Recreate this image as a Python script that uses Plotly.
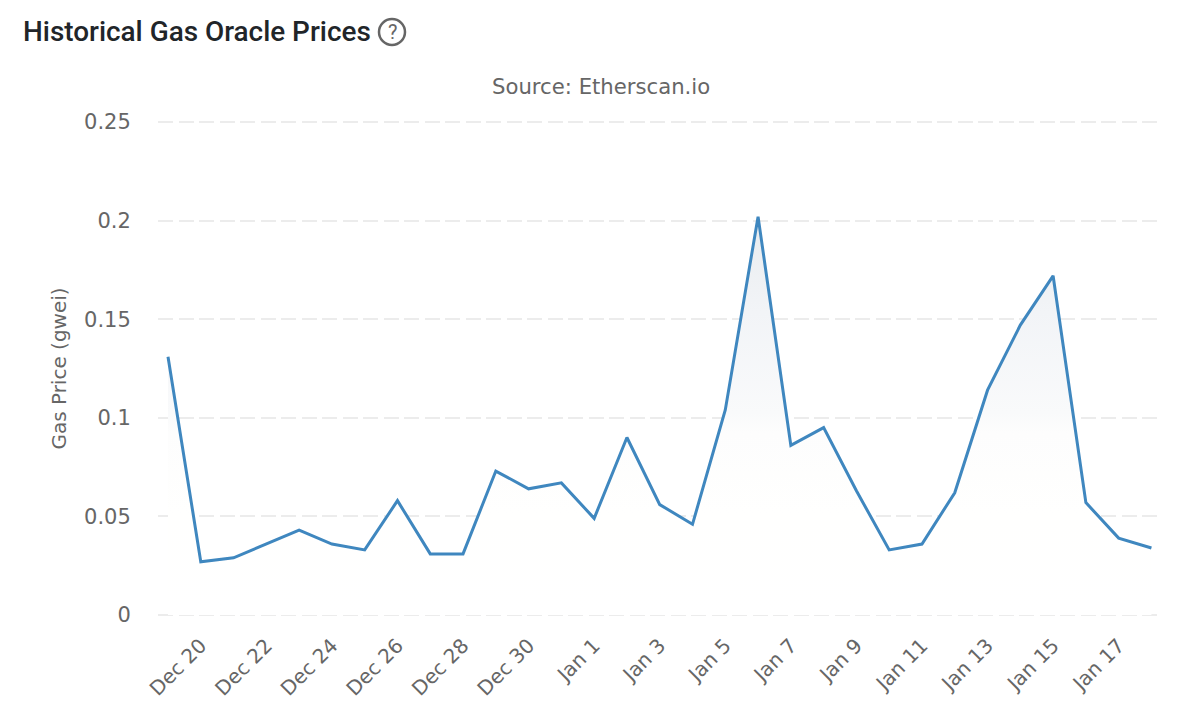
import plotly.graph_objects as go

dates = ["Dec 19", "Dec 20", "Dec 21", "Dec 22", "Dec 23", "Dec 24", "Dec 25", "Dec 26",
         "Dec 27", "Dec 28", "Dec 29", "Dec 30", "Dec 31", "Jan 1", "Jan 2", "Jan 3",
         "Jan 4", "Jan 5", "Jan 6", "Jan 7", "Jan 8", "Jan 9", "Jan 10", "Jan 11",
         "Jan 12", "Jan 13", "Jan 14", "Jan 15", "Jan 16", "Jan 17", "Jan 18"]
gas_price = [0.131, 0.027, 0.029, 0.036, 0.043, 0.036, 0.033, 0.058,
             0.031, 0.031, 0.073, 0.064, 0.067, 0.049, 0.090, 0.056,
             0.046, 0.104, 0.202, 0.086, 0.095, 0.063, 0.033, 0.036,
             0.062, 0.114, 0.147, 0.172, 0.057, 0.039, 0.034]
x_ticks = dates[1::2]
y_ticks = [0, 0.05, 0.1, 0.15, 0.2, 0.25]
y_labels = ["0", "0.05", "0.1", "0.15", "0.2", "0.25"]

# the page adds an 8px body margin around the figure
W, H = 1184, 709
L, R, T, B = 150, 34, 112, 100


def px(x):
    return (x - 8 - L) / (W - L - R)


def py(y):
    return 1 - (y - 8 - T) / (H - T - B)


fig = go.Figure()

fig.add_trace(go.Scatter(
    x=dates, y=gas_price,
    mode="lines",
    line=dict(color="#3f87bf", width=3),
    fill="tozeroy",
    fillgradient=dict(
        type="vertical",
        start=0, stop=0.205,
        colorscale=[[0, "#ffffff"], [0.25, "#fffffe"], [0.45, "#fdfdfd"], [0.5, "#f9fafb"],
                    [0.75, "#f2f4f7"], [1, "#e8ebee"]],
    ),
    hoverinfo="x+y",
    showlegend=False,
))

fig.update_layout(
    width=W, height=H,
    autosize=False,
    margin=dict(l=L, r=R, t=T, b=B),
    paper_bgcolor="white",
    plot_bgcolor="white",
    font=dict(family="DejaVu Sans", color="#666666", size=20),
    xaxis=dict(
        type="category",
        categoryorder="array",
        categoryarray=dates,
        range=[-0.305, 30.2],
        tickmode="array",
        tickvals=x_ticks,
        ticktext=x_ticks,
        tickangle=-45,
        showgrid=False,
        zeroline=False,
        showline=False,
        ticks="",
        ticklabelstandoff=12,
        tickfont=dict(size=20),
    ),
    yaxis=dict(
        range=[-0.001, 0.251],  # wider than the ticks so the 0 and 0.25 grid lines stay drawn
        tickmode="array",
        tickvals=y_ticks,
        ticktext=y_labels,
        showgrid=True,
        gridcolor="#ececec",
        gridwidth=2,
        griddash="15px,5.5px",
        zeroline=False,
        showline=False,
        ticks="outside",
        ticklen=22,
        tickcolor="rgba(0,0,0,0)",
        tickfont=dict(size=21),
        title=dict(text="Gas Price (gwei)", font=dict(size=20, color="#666666"), standoff=12),
    ),
)

# page title and subtitle sit outside the plot area
fig.add_annotation(text="Historical Gas Oracle Prices", xref="paper", yref="paper",
                   x=px(21), y=py(32),
                   xanchor="left", yanchor="middle", showarrow=False,
                   font=dict(family="Roboto", size=27.9, color="#212529", weight=500))
fig.add_annotation(text="Source: Etherscan.io", xref="paper", yref="paper",
                   x=px(601), y=py(86),
                   xanchor="center", yanchor="middle", showarrow=False,
                   font=dict(size=21.2, color="#666666"))

# help icon next to the title
fig.add_shape(type="circle", xref="paper", yref="paper",
              x0=px(379), x1=px(405), y0=py(45), y1=py(19),
              line=dict(color="#666666", width=2.5), fillcolor="rgba(0,0,0,0)")
fig.add_annotation(text="?", xref="paper", yref="paper",
                   x=px(392), y=py(32),
                   xanchor="center", yanchor="middle", showarrow=False,
                   font=dict(family="Roboto", size=20, color="#666666"))

fig.write_html("out.html")
